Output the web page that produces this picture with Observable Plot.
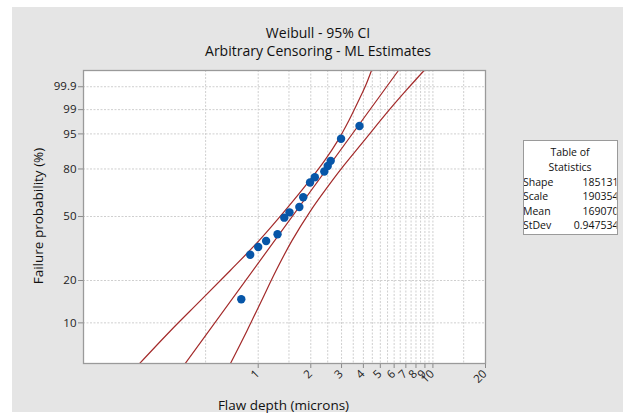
<!DOCTYPE html>
<html>
<head>
<meta charset="utf-8">
<script src="https://cdn.jsdelivr.net/npm/d3@7"></script>
<script src="https://cdn.jsdelivr.net/npm/@observablehq/plot@0.6"></script>
<style>
  body { margin: 0; background: #ffffff; width: 623px; height: 416px; overflow: hidden; font-family: "Open Sans", sans-serif; }
  #panel { position: absolute; left: 12px; top: 7px; width: 611px; height: 405px; background: #e5e5e5; }
  #chart, #overlay { position: absolute; left: 0; top: 0; }
</style>
</head>
<body>
<div id="panel"></div>
<div id="chart"></div>
<div id="overlay"></div>
<script>
// ---- data ----
const pointDepth = [3.80, 2.98, 2.60, 2.50, 2.39, 2.11, 1.98, 1.81, 1.72, 1.51, 1.41, 1.29, 1.11, 1.00, 0.90, 0.80];
const pointProb  = [96.8, 93.6, 84.4, 81.7, 78.5, 75.1, 71.8, 62.3, 56.0, 52.6, 49.3, 39.7, 36.2, 33.2, 29.7, 14.8];

const fitDepth = [0.38, 6.35];
const fitProb  = [4.95, 99.99];

const upperDepth = [0.208, 0.315, 0.467, 0.690, 1.011, 1.424, 1.966, 2.399, 2.855, 3.305, 3.757, 4.121, 4.451];
const upperProb  = [4.95, 8.76, 14.45, 23.3, 36.37, 53.67, 73.0, 84.5, 93.0, 97.75, 99.55, 99.914, 99.99];

const lowerDepth = [0.691, 0.863, 1.045, 1.264, 1.561, 1.997, 2.406, 2.932, 4.040, 5.593, 7.004, 8.905];
const lowerProb  = [4.95, 8.76, 14.45, 23.3, 36.37, 53.67, 66.6, 79.1, 93.0, 98.93, 99.84, 99.99];

const yTickProbs  = [10, 20, 50, 80, 95, 99, 99.9];
const yTickLabels = ["10", "20", "50", "80", "95", "99", "99.9"];
const xTickValues = [1, 2, 3, 4, 5, 6, 7, 8, 9, 10, 20];
const xTickLabels = ["1", "2", "3", "4", "5", "6", "7", "8", "9", "10", "20"];
const xGridValues = [0.5, 1, 1.5, 2, 2.5, 3, 3.5, 4, 4.5, 5, 5.5, 6, 6.5, 7, 7.5, 8, 8.5, 9, 9.5, 10, 15];
const yDomainProbs = [5, 99.99];
const xDomain = [0.1, 20];

const titleLines = ["Weibull - 95% CI", "Arbitrary Censoring - ML Estimates"];
const xLabel = "Flaw depth (microns)";
const yLabel = "Failure probability (%)";
const statsTitle = ["Table of", "Statistics"];
const statsNames = ["Shape", "Scale", "Mean", "StDev"];
const statsValues = ["185131", "190354", "169070", "0.947534"];

// Weibull probability transform
const wb = p => Math.log(-Math.log(1 - p / 100));
const toRows = (xs, ps) => xs.map((x, i) => ({x, y: wb(ps[i])}));

const points = toRows(pointDepth, pointProb);
const fit = toRows(fitDepth, fitProb);
const upper = toRows(upperDepth, upperProb);
const lower = toRows(lowerDepth, lowerProb);
const yTickW = yTickProbs.map(wb);

const lineColor = "#a32a2a";
const gridStyle = {stroke: "#cfcfcf", strokeOpacity: 1, strokeWidth: 1, strokeDasharray: "2,1.5"};

const plot = Plot.plot({
  width: 623,
  height: 416,
  marginLeft: 83,
  marginRight: 138,
  marginTop: 70,
  marginBottom: 53,
  style: {background: "transparent", fontFamily: "Open Sans, sans-serif", fontSize: "11.5px", color: "#222"},
  x: {type: "log", domain: xDomain, axis: null},
  y: {domain: yDomainProbs.map(wb), axis: null},
  marks: [
    Plot.frame({fill: "white", stroke: null}),
    Plot.gridX(xGridValues, gridStyle),
    Plot.gridY(yTickW, gridStyle),
    Plot.axisY(yTickW, {
      tickSize: 5, tickPadding: 2, stroke: "#8a8a8a", fill: "#222", label: null,
      tickFormat: d => yTickLabels[yTickW.indexOf(d)]
    }),
    Plot.axisX(xTickValues, {tickSize: 5, stroke: "#8a8a8a", label: null, tickFormat: () => ""}),
    Plot.text(xTickValues, {
      x: d => d, frameAnchor: "bottom", text: (d, i) => xTickLabels[i],
      rotate: -45, textAnchor: "end", dx: 2, dy: 11, fill: "#222", fontSize: 11.5
    }),
    Plot.line(upper, {x: "x", y: "y", stroke: lineColor, strokeWidth: 1.2, curve: "catmull-rom", clip: true}),
    Plot.line(lower, {x: "x", y: "y", stroke: lineColor, strokeWidth: 1.2, curve: "catmull-rom", clip: true}),
    Plot.line(fit, {x: "x", y: "y", stroke: lineColor, strokeWidth: 1.2, clip: true}),
    Plot.dot(points, {x: "x", y: "y", r: 4.2, fill: "#0756a8", stroke: null}),
    Plot.frame({stroke: "#9a9a9a", strokeWidth: 1.3})
  ]
});
document.getElementById("chart").appendChild(plot);

// ---- titles, axis labels, statistics table ----
const svg = d3.select("#overlay").append("svg")
  .attr("width", 623).attr("height", 416)
  .style("font-family", "Open Sans, sans-serif");

svg.append("text").attr("x", 318).attr("y", 37.5).attr("text-anchor", "middle")
  .attr("font-size", 14).attr("fill", "#111").text(titleLines[0]);
svg.append("text").attr("x", 318).attr("y", 56).attr("text-anchor", "middle")
  .attr("font-size", 14).attr("fill", "#111").text(titleLines[1]);
svg.append("text").attr("x", 283.5).attr("y", 409.5).attr("text-anchor", "middle")
  .attr("font-size", 13.5).attr("fill", "#111").text(xLabel);
svg.append("text").attr("transform", "translate(43,216) rotate(-90)").attr("text-anchor", "middle")
  .attr("font-size", 13.5).attr("fill", "#111").text(yLabel);

const bx = 523, by = 140, bw = 94, bh = 94;
svg.append("clipPath").attr("id", "boxclip").append("rect")
  .attr("x", bx + 1).attr("y", by).attr("width", bw - 1.5).attr("height", bh);
svg.append("rect").attr("x", bx + 0.5).attr("y", by + 0.5).attr("width", bw).attr("height", bh)
  .attr("fill", "white").attr("stroke", "#9a9a9a");
const g = svg.append("g").attr("clip-path", "url(#boxclip)").attr("font-size", 10.5).attr("fill", "#111");
statsTitle.forEach((t, i) => {
  g.append("text").attr("x", bx + bw / 2).attr("y", 155.5 + i * 15).attr("text-anchor", "middle").text(t);
});
statsNames.forEach((t, i) => {
  g.append("text").attr("x", bx).attr("y", 186 + i * 14.4).text(t);
  g.append("text").attr("x", bx + bw + 1.5).attr("y", 186 + i * 14.4).attr("text-anchor", "end").text(statsValues[i]);
});
</script>
</body>
</html>
